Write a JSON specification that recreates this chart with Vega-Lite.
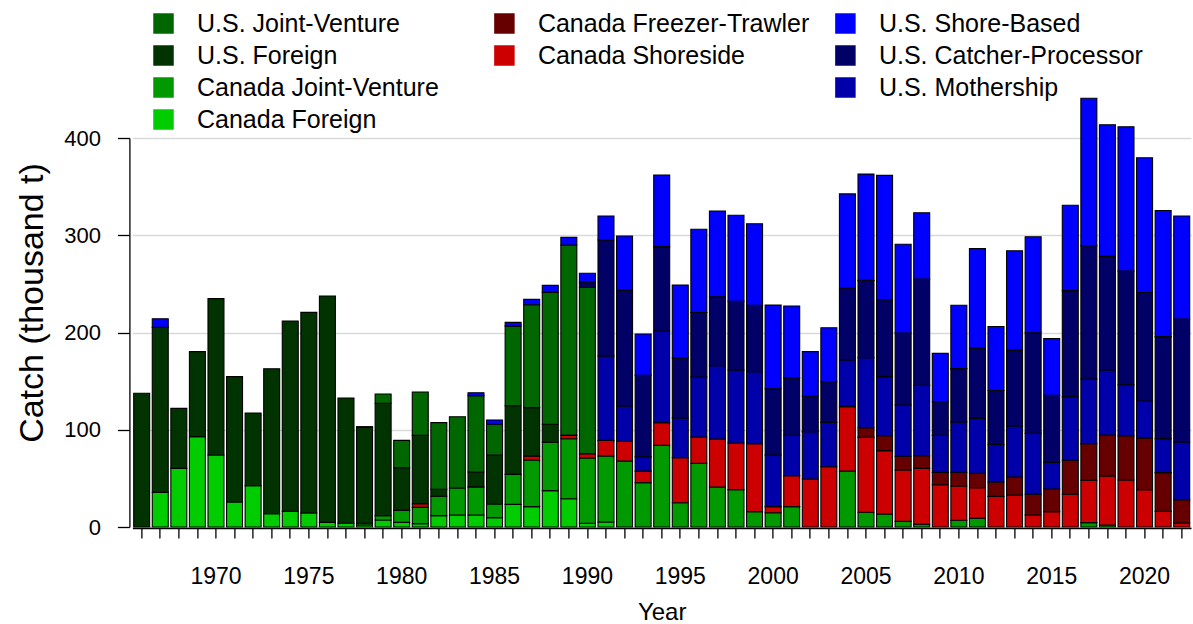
{
  "$schema": "https://vega.github.io/schema/vega-lite/v6.json",
  "width": 1058.6,
  "height": 389,
  "autosize": {"type": "none"},
  "padding": {"left": 132.4, "top": 138, "right": 2, "bottom": 97},
  "background": "white",
  "config": {
    "view": {"stroke": null},
    "font": "Liberation Sans",
    "axis": {"labelFont": "Liberation Sans", "titleFont": "Liberation Sans", "labelColor": "black", "titleColor": "black", "domainColor": "black", "tickColor": "black", "titleFontWeight": "normal"},
    "legend": {"labelFont": "Liberation Sans", "labelFontSize": 25, "labelColor": "black", "labelLimit": 0, "symbolType": "square", "symbolSize": 420, "symbolStrokeWidth": 0, "symbolOpacity": 1, "labelOffset": 21, "rowPadding": 6, "padding": 0}
  },
  "datasets": {
    "sectors": [
      {"s": "CF", "sector": "Canada Foreign", "ord": 1, "grp": "g"},
      {"s": "CJ", "sector": "Canada Joint-Venture", "ord": 2, "grp": "g"},
      {"s": "CS", "sector": "Canada Shoreside", "ord": 3, "grp": "r"},
      {"s": "CT", "sector": "Canada Freezer-Trawler", "ord": 4, "grp": "r"},
      {"s": "UF", "sector": "U.S. Foreign", "ord": 5, "grp": "g"},
      {"s": "UJ", "sector": "U.S. Joint-Venture", "ord": 6, "grp": "g"},
      {"s": "UM", "sector": "U.S. Mothership", "ord": 7, "grp": "b"},
      {"s": "UC", "sector": "U.S. Catcher-Processor", "ord": 8, "grp": "b"},
      {"s": "US", "sector": "U.S. Shore-Based", "ord": 9, "grp": "b"}
    ],
    "catch": [
      {"year": 1966, "s": "UF", "c": 137.5},
      {"year": 1967, "s": "CF", "c": 35.6}, {"year": 1967, "s": "UF", "c": 169.7}, {"year": 1967, "s": "US", "c": 8.9},
      {"year": 1968, "s": "CF", "c": 60.3}, {"year": 1968, "s": "UF", "c": 61.7},
      {"year": 1969, "s": "CF", "c": 92.9}, {"year": 1969, "s": "UF", "c": 87.4},
      {"year": 1970, "s": "CF", "c": 74.0}, {"year": 1970, "s": "UF", "c": 160.8},
      {"year": 1971, "s": "CF", "c": 25.7}, {"year": 1971, "s": "UF", "c": 128.9},
      {"year": 1972, "s": "CF", "c": 42.5}, {"year": 1972, "s": "UF", "c": 74.7},
      {"year": 1973, "s": "CF", "c": 13.7}, {"year": 1973, "s": "UF", "c": 149.1},
      {"year": 1974, "s": "CF", "c": 16.1}, {"year": 1974, "s": "UF", "c": 195.7},
      {"year": 1975, "s": "CF", "c": 14.4}, {"year": 1975, "s": "UF", "c": 206.3},
      {"year": 1976, "s": "CF", "c": 4.8}, {"year": 1976, "s": "UF", "c": 232.7},
      {"year": 1977, "s": "CF", "c": 3.8}, {"year": 1977, "s": "UF", "c": 128.8},
      {"year": 1978, "s": "CF", "c": 2.0}, {"year": 1978, "s": "CJ", "c": 1.8}, {"year": 1978, "s": "UF", "c": 98.5}, {"year": 1978, "s": "UJ", "c": 0.9},
      {"year": 1979, "s": "CF", "c": 7.2}, {"year": 1979, "s": "CJ", "c": 4.5}, {"year": 1979, "s": "UF", "c": 115.5}, {"year": 1979, "s": "UJ", "c": 9.6},
      {"year": 1980, "s": "CF", "c": 4.8}, {"year": 1980, "s": "CJ", "c": 12.3}, {"year": 1980, "s": "UF", "c": 43.9}, {"year": 1980, "s": "UJ", "c": 28.1},
      {"year": 1981, "s": "CF", "c": 3.4}, {"year": 1981, "s": "CJ", "c": 16.8}, {"year": 1981, "s": "CS", "c": 3.4}, {"year": 1981, "s": "UF", "c": 70.6}, {"year": 1981, "s": "UJ", "c": 44.6},
      {"year": 1982, "s": "CF", "c": 11.7}, {"year": 1982, "s": "CJ", "c": 19.9}, {"year": 1982, "s": "UF", "c": 7.2}, {"year": 1982, "s": "UJ", "c": 68.5},
      {"year": 1983, "s": "CF", "c": 12.3}, {"year": 1983, "s": "CJ", "c": 27.8}, {"year": 1983, "s": "UJ", "c": 73.3},
      {"year": 1984, "s": "CF", "c": 12.3}, {"year": 1984, "s": "CJ", "c": 29.0}, {"year": 1984, "s": "UF", "c": 15.2}, {"year": 1984, "s": "UJ", "c": 78.6}, {"year": 1984, "s": "US", "c": 3.0},
      {"year": 1985, "s": "CF", "c": 9.6}, {"year": 1985, "s": "CJ", "c": 14.1}, {"year": 1985, "s": "UF", "c": 50.4}, {"year": 1985, "s": "UJ", "c": 31.5}, {"year": 1985, "s": "US", "c": 4.5},
      {"year": 1986, "s": "CF", "c": 23.3}, {"year": 1986, "s": "CJ", "c": 30.8}, {"year": 1986, "s": "UF", "c": 70.6}, {"year": 1986, "s": "UJ", "c": 81.9}, {"year": 1986, "s": "US", "c": 3.8},
      {"year": 1987, "s": "CF", "c": 20.9}, {"year": 1987, "s": "CJ", "c": 48.0}, {"year": 1987, "s": "CS", "c": 3.8}, {"year": 1987, "s": "UF", "c": 50.0}, {"year": 1987, "s": "UJ", "c": 105.9}, {"year": 1987, "s": "US", "c": 5.5},
      {"year": 1988, "s": "CF", "c": 37.4}, {"year": 1988, "s": "CJ", "c": 49.7}, {"year": 1988, "s": "UF", "c": 18.5}, {"year": 1988, "s": "UJ", "c": 135.7}, {"year": 1988, "s": "US", "c": 7.2},
      {"year": 1989, "s": "CF", "c": 29.1}, {"year": 1989, "s": "CJ", "c": 61.7}, {"year": 1989, "s": "CS", "c": 3.4}, {"year": 1989, "s": "UJ", "c": 195.7}, {"year": 1989, "s": "US", "c": 7.9},
      {"year": 1990, "s": "CF", "c": 3.8}, {"year": 1990, "s": "CJ", "c": 67.2}, {"year": 1990, "s": "CS", "c": 4.1}, {"year": 1990, "s": "UJ", "c": 171.4}, {"year": 1990, "s": "UC", "c": 5.1}, {"year": 1990, "s": "US", "c": 9.3},
      {"year": 1991, "s": "CF", "c": 5.1}, {"year": 1991, "s": "CJ", "c": 67.9}, {"year": 1991, "s": "CS", "c": 16.1}, {"year": 1991, "s": "UM", "c": 86.7}, {"year": 1991, "s": "UC", "c": 119.3}, {"year": 1991, "s": "US", "c": 24.7},
      {"year": 1992, "s": "CJ", "c": 67.9}, {"year": 1992, "s": "CS", "c": 20.2}, {"year": 1992, "s": "UM", "c": 36.3}, {"year": 1992, "s": "UC", "c": 118.9}, {"year": 1992, "s": "US", "c": 55.9},
      {"year": 1993, "s": "CJ", "c": 45.6}, {"year": 1993, "s": "CS", "c": 11.9}, {"year": 1993, "s": "UM", "c": 14.8}, {"year": 1993, "s": "UC", "c": 83.8}, {"year": 1993, "s": "US", "c": 42.4},
      {"year": 1994, "s": "CJ", "c": 84.0}, {"year": 1994, "s": "CS", "c": 23.3}, {"year": 1994, "s": "UM", "c": 94.3}, {"year": 1994, "s": "UC", "c": 86.7}, {"year": 1994, "s": "US", "c": 73.7},
      {"year": 1995, "s": "CJ", "c": 25.0}, {"year": 1995, "s": "CS", "c": 46.3}, {"year": 1995, "s": "UM", "c": 40.8}, {"year": 1995, "s": "UC", "c": 61.7}, {"year": 1995, "s": "US", "c": 75.1},
      {"year": 1996, "s": "CJ", "c": 65.5}, {"year": 1996, "s": "CS", "c": 27.1}, {"year": 1996, "s": "UM", "c": 61.7}, {"year": 1996, "s": "UC", "c": 66.2}, {"year": 1996, "s": "US", "c": 85.7},
      {"year": 1997, "s": "CJ", "c": 41.1}, {"year": 1997, "s": "CS", "c": 49.4}, {"year": 1997, "s": "UM", "c": 75.4}, {"year": 1997, "s": "UC", "c": 70.9}, {"year": 1997, "s": "US", "c": 88.1},
      {"year": 1998, "s": "CJ", "c": 38.4}, {"year": 1998, "s": "CS", "c": 48.0}, {"year": 1998, "s": "UM", "c": 75.1}, {"year": 1998, "s": "UC", "c": 70.6}, {"year": 1998, "s": "US", "c": 88.4},
      {"year": 1999, "s": "CJ", "c": 15.8}, {"year": 1999, "s": "CS", "c": 69.9}, {"year": 1999, "s": "UM", "c": 74.0}, {"year": 1999, "s": "UC", "c": 68.2}, {"year": 1999, "s": "US", "c": 84.0},
      {"year": 2000, "s": "CJ", "c": 14.7}, {"year": 2000, "s": "CS", "c": 6.2}, {"year": 2000, "s": "UM", "c": 53.1}, {"year": 2000, "s": "UC", "c": 68.2}, {"year": 2000, "s": "US", "c": 86.0},
      {"year": 2001, "s": "CJ", "c": 20.9}, {"year": 2001, "s": "CS", "c": 31.9}, {"year": 2001, "s": "UM", "c": 41.5}, {"year": 2001, "s": "UC", "c": 59.0}, {"year": 2001, "s": "US", "c": 74.0},
      {"year": 2002, "s": "CS", "c": 49.4}, {"year": 2002, "s": "UM", "c": 48.7}, {"year": 2002, "s": "UC", "c": 36.3}, {"year": 2002, "s": "US", "c": 45.9},
      {"year": 2003, "s": "CS", "c": 62.0}, {"year": 2003, "s": "UM", "c": 45.6}, {"year": 2003, "s": "UC", "c": 41.8}, {"year": 2003, "s": "US", "c": 55.5},
      {"year": 2004, "s": "CJ", "c": 57.6}, {"year": 2004, "s": "CS", "c": 66.2}, {"year": 2004, "s": "UM", "c": 48.0}, {"year": 2004, "s": "UC", "c": 73.7}, {"year": 2004, "s": "US", "c": 97.0},
      {"year": 2005, "s": "CJ", "c": 15.1}, {"year": 2005, "s": "CS", "c": 77.1}, {"year": 2005, "s": "CT", "c": 9.9}, {"year": 2005, "s": "UM", "c": 72.0}, {"year": 2005, "s": "UC", "c": 79.5}, {"year": 2005, "s": "US", "c": 109.3},
      {"year": 2006, "s": "CJ", "c": 13.4}, {"year": 2006, "s": "CS", "c": 65.1}, {"year": 2006, "s": "CT", "c": 15.4}, {"year": 2006, "s": "UM", "c": 60.7}, {"year": 2006, "s": "UC", "c": 79.2}, {"year": 2006, "s": "US", "c": 127.8},
      {"year": 2007, "s": "CJ", "c": 5.8}, {"year": 2007, "s": "CS", "c": 52.8}, {"year": 2007, "s": "CT", "c": 14.1}, {"year": 2007, "s": "UM", "c": 52.8}, {"year": 2007, "s": "UC", "c": 74.0}, {"year": 2007, "s": "US", "c": 91.2},
      {"year": 2008, "s": "CJ", "c": 2.7}, {"year": 2008, "s": "CS", "c": 57.6}, {"year": 2008, "s": "CT", "c": 13.0}, {"year": 2008, "s": "UM", "c": 72.3}, {"year": 2008, "s": "UC", "c": 109.3}, {"year": 2008, "s": "US", "c": 68.2},
      {"year": 2009, "s": "CS", "c": 43.5}, {"year": 2009, "s": "CT", "c": 12.7}, {"year": 2009, "s": "UM", "c": 38.0}, {"year": 2009, "s": "UC", "c": 34.6}, {"year": 2009, "s": "US", "c": 49.7},
      {"year": 2010, "s": "CJ", "c": 6.9}, {"year": 2010, "s": "CS", "c": 35.3}, {"year": 2010, "s": "CT", "c": 14.1}, {"year": 2010, "s": "UM", "c": 51.8}, {"year": 2010, "s": "UC", "c": 54.8}, {"year": 2010, "s": "US", "c": 65.1},
      {"year": 2011, "s": "CJ", "c": 8.9}, {"year": 2011, "s": "CS", "c": 31.5}, {"year": 2011, "s": "CT", "c": 14.7}, {"year": 2011, "s": "UM", "c": 56.6}, {"year": 2011, "s": "UC", "c": 72.0}, {"year": 2011, "s": "US", "c": 102.5},
      {"year": 2012, "s": "CS", "c": 31.5}, {"year": 2012, "s": "CT", "c": 14.7}, {"year": 2012, "s": "UM", "c": 38.7}, {"year": 2012, "s": "UC", "c": 55.5}, {"year": 2012, "s": "US", "c": 65.8},
      {"year": 2013, "s": "CS", "c": 32.9}, {"year": 2013, "s": "CT", "c": 18.5}, {"year": 2013, "s": "UM", "c": 52.4}, {"year": 2013, "s": "UC", "c": 78.1}, {"year": 2013, "s": "US", "c": 102.1},
      {"year": 2014, "s": "CS", "c": 12.3}, {"year": 2014, "s": "CT", "c": 21.3}, {"year": 2014, "s": "UM", "c": 62.7}, {"year": 2014, "s": "UC", "c": 103.5}, {"year": 2014, "s": "US", "c": 98.7},
      {"year": 2015, "s": "CS", "c": 15.8}, {"year": 2015, "s": "CT", "c": 23.3}, {"year": 2015, "s": "UM", "c": 27.4}, {"year": 2015, "s": "UC", "c": 68.9}, {"year": 2015, "s": "US", "c": 58.3},
      {"year": 2016, "s": "CS", "c": 33.6}, {"year": 2016, "s": "CT", "c": 35.0}, {"year": 2016, "s": "UM", "c": 65.5}, {"year": 2016, "s": "UC", "c": 109.0}, {"year": 2016, "s": "US", "c": 87.7},
      {"year": 2017, "s": "CJ", "c": 4.5}, {"year": 2017, "s": "CS", "c": 43.5}, {"year": 2017, "s": "CT", "c": 37.7}, {"year": 2017, "s": "UM", "c": 66.5}, {"year": 2017, "s": "UC", "c": 137.1}, {"year": 2017, "s": "US", "c": 151.5},
      {"year": 2018, "s": "CJ", "c": 2.0}, {"year": 2018, "s": "CS", "c": 50.4}, {"year": 2018, "s": "CT", "c": 42.2}, {"year": 2018, "s": "UM", "c": 66.8}, {"year": 2018, "s": "UC", "c": 116.9}, {"year": 2018, "s": "US", "c": 135.4},
      {"year": 2019, "s": "CS", "c": 48.3}, {"year": 2019, "s": "CT", "c": 45.6}, {"year": 2019, "s": "UM", "c": 52.4}, {"year": 2019, "s": "UC", "c": 116.9}, {"year": 2019, "s": "US", "c": 148.4},
      {"year": 2020, "s": "CS", "c": 38.4}, {"year": 2020, "s": "CT", "c": 53.1}, {"year": 2020, "s": "UM", "c": 38.0}, {"year": 2020, "s": "UC", "c": 111.7}, {"year": 2020, "s": "US", "c": 138.5},
      {"year": 2021, "s": "CS", "c": 16.1}, {"year": 2021, "s": "CT", "c": 39.8}, {"year": 2021, "s": "UM", "c": 35.0}, {"year": 2021, "s": "UC", "c": 104.9}, {"year": 2021, "s": "US", "c": 129.6},
      {"year": 2022, "s": "CS", "c": 4.1}, {"year": 2022, "s": "CT", "c": 24.0}, {"year": 2022, "s": "UM", "c": 59.3}, {"year": 2022, "s": "UC", "c": 126.5}, {"year": 2022, "s": "US", "c": 105.9}
    ]
  },
  "data": {"name": "catch"},
  "transform": [
    {"lookup": "s", "from": {"data": {"name": "sectors"}, "key": "s", "fields": ["sector", "ord", "grp"]}},
    {"stack": "c", "groupby": ["year"], "sort": [{"field": "ord", "order": "ascending"}], "as": ["c0", "c1"]}
  ],
  "encoding": {
    "x": {
      "field": "year", "type": "ordinal",
      "scale": {"paddingInner": 0.14, "paddingOuter": 0.07},
      "axis": {
        "title": "Year", "titleFontSize": 24, "titleY": 91, "titleBaseline": "alphabetic",
        "labelFontSize": 23, "labelAngle": 0,
        "labelExpr": "datum.value % 5 === 0 ? datum.label : ''",
        "tickSize": 10,
        "encode": {"ticks": {"update": {"y2": {"signal": "datum.value % 5 === 0 ? 19 : 10"}}}},
        "labelPadding": 27, "tickWidth": 1.3, "domainWidth": 1.3, "offset": 1, "grid": false
      }
    },
    "y": {
      "field": "c0", "type": "quantitative",
      "scale": {"domain": [0, 400], "nice": false},
      "axis": {
        "title": "Catch (thousand t)", "titleFontSize": 34, "titleX": -86.4, "titleY": 164.5,
        "titleBaseline": "alphabetic", "titleAlign": "center",
        "values": [0, 100, 200, 300, 400], "labelFontSize": 22, "labelPadding": 17, "tickSize": 12,
        "grid": true, "gridColor": "#d9d9d9", "gridWidth": 1.5,
        "offset": 3, "tickWidth": 1.3, "domainWidth": 1.3
      }
    },
    "y2": {"field": "c1"}
  },
  "layer": [
    {
      "transform": [{"filter": "datum.grp === 'g'"}],
      "mark": {"type": "bar", "stroke": "black", "strokeWidth": 1.1},
      "encoding": {
        "color": {
          "field": "sector", "type": "nominal",
          "scale": {"domain": ["U.S. Joint-Venture", "U.S. Foreign", "Canada Joint-Venture", "Canada Foreign"], "range": ["#006600", "#003300", "#009900", "#00cc00"]},
          "legend": {"title": null, "orient": "none", "legendX": 18.6, "legendY": -127}
        }
      }
    },
    {
      "transform": [{"filter": "datum.grp === 'r'"}],
      "mark": {"type": "bar", "stroke": "black", "strokeWidth": 1.1},
      "encoding": {
        "color": {
          "field": "sector", "type": "nominal",
          "scale": {"domain": ["Canada Freezer-Trawler", "Canada Shoreside"], "range": ["#660000", "#cc0000"]},
          "legend": {"title": null, "orient": "none", "legendX": 359.5, "legendY": -127}
        }
      }
    },
    {
      "transform": [{"filter": "datum.grp === 'b'"}],
      "mark": {"type": "bar", "stroke": "black", "strokeWidth": 1.1},
      "encoding": {
        "color": {
          "field": "sector", "type": "nominal",
          "scale": {"domain": ["U.S. Shore-Based", "U.S. Catcher-Processor", "U.S. Mothership"], "range": ["#0000ff", "#000066", "#0000aa"]},
          "legend": {"title": null, "orient": "none", "legendX": 700.5, "legendY": -127}
        }
      }
    }
  ],
  "resolve": {"scale": {"color": "independent"}, "legend": {"color": "independent"}}
}
